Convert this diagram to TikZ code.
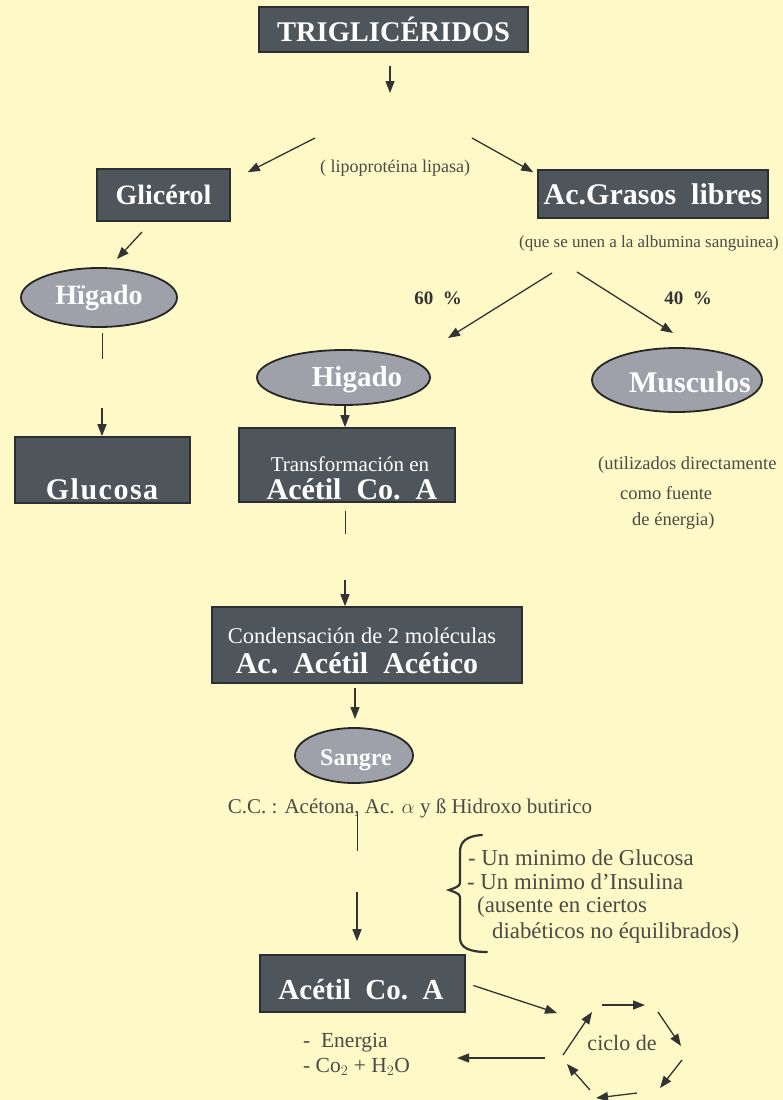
\documentclass[tikz,border=0pt]{standalone}
\usepackage{fontspec}
\setmainfont{Liberation Serif}
\usetikzlibrary{arrows.meta,shapes.geometric}
\definecolor{bg}{HTML}{FEF9C6}
\definecolor{boxfill}{HTML}{4F565B}
\definecolor{boxedge}{HTML}{2B2F33}
\definecolor{ellfill}{HTML}{9EA1AA}
\definecolor{ink}{HTML}{333333}
\definecolor{txt}{HTML}{4A4A46}
\newcommand{\fs}[1]{\fontsize{#1}{#1}\selectfont}
\begin{document}
\begin{tikzpicture}[x=1pt,y=-1pt,
  darkbox/.style={draw=boxedge, line width=1.6pt, fill=boxfill, inner sep=0pt, text=white},
  organ/.style={ellipse, draw=black!85, line width=1.8pt, fill=ellfill, inner sep=0pt, text=white},
  wtxt/.style={text=white, inner sep=0pt, font=\bfseries},
  arr/.style={draw=ink, line width=1.3pt, -{Triangle[length=12pt,width=9pt]}},
  ln/.style={draw=ink, line width=0.9pt},
  note/.style={text=txt, inner sep=0pt}]
\fill[bg] (0,0) rectangle (783,1100);
\useasboundingbox (0,0) rectangle (783,1100);

% boxes
\node[darkbox, minimum width=269, minimum height=45, font=\bfseries\fs{28.5}] (trig) at (393.5,29.5) {TRIGLICÉRIDOS};
\node[darkbox, minimum width=133, minimum height=52, font=\bfseries\fs{28}] (glic) at (163.5,195) {Glicérol};
\node[darkbox, minimum width=230, minimum height=48, font=\bfseries\fs{30}] (acg) at (653,194) {Ac.Grasos\ \ libres};
\node[darkbox, minimum width=175, minimum height=66] (gluc) at (102.5,470) {};
\node[wtxt, font=\bfseries\fs{30}\addfontfeature{LetterSpace=5}] (glucT) at (102,489) {Glucosa};
\node[darkbox, minimum width=216, minimum height=74] (trans) at (347,465) {};
\node[wtxt, font=\fs{21}\mdseries] (transT1) at (350,464) {Transformación en};
\node[wtxt, font=\bfseries\fs{30}] (transT2) at (352,489) {Acétil\ \ Co.\ \ A};
\node[darkbox, minimum width=310, minimum height=76] (cond) at (367,645) {};
\node[wtxt, font=\fs{22.5}\mdseries] (condT1) at (362,636) {Condensación de 2 moléculas};
\node[wtxt, font=\bfseries\fs{30}] (condT2) at (357,663) {Ac.\ \ Acétil\ \ Acético};
\node[darkbox, minimum width=205, minimum height=57] (acet) at (362.5,983.5) {};
\node[wtxt, font=\bfseries\fs{29}] (acetT) at (361,990) {Acétil\ \ Co.\ \ A};

% organs
\node[organ, minimum width=156, minimum height=59] (higL) at (99,297.5) {};
\node[wtxt, font=\bfseries\fs{28}] (higLT) at (99,298) {Hïgado};
\node[organ, minimum width=173, minimum height=55] (higC) at (343.5,377.5) {};
\node[wtxt, font=\bfseries\fs{29}] (higCT) at (357,380) {Higado};
\node[organ, minimum width=170, minimum height=64] (musc) at (677,380) {};
\node[wtxt, font=\bfseries\fs{30}] (muscT) at (690,382) {Musculos};
\node[organ, minimum width=118, minimum height=55] (sang) at (354,755.5) {};
\node[wtxt, font=\bfseries\fs{24}] (sangT) at (356,760) {Sangre};

% notes
\node[note, font=\fs{18}] (lipo) at (395,168) {( lipoprotéina lipasa)};
\node[note, font=\fs{17}] (alb) at (649,243) {(que se unen a la albumina sanguinea)};
\node[note, font=\bfseries\fs{19}, text=ink] (p60) at (438,298) {60\ \ \%};
\node[note, font=\bfseries\fs{19}, text=ink] (p40) at (688,298) {40\ \ \%};
\node[note, font=\fs{18.5}, anchor=west] (ut1) at (598,465) {(utilizados directamente};
\node[note, font=\fs{18.5}, anchor=west] (ut2) at (620,493) {como fuente};
\node[note, font=\fs{18.5}, anchor=west] (ut3) at (632,521) {de énergia)};
\node[note, font=\fs{21}] (cc) at (410,808) {C.C. : Acétona, Ac. $\alpha$ y ß Hidroxo butirico};
\node[note, font=\fs{22.8}, anchor=west] (m1) at (468,858) {- Un minimo de Glucosa};
\node[note, font=\fs{22.8}, anchor=west] (m2) at (467,882) {- Un minimo d’Insulina};
\node[note, font=\fs{22.8}, anchor=west] (m3) at (477,907) {(ausente en ciertos};
\node[note, font=\fs{22.8}, anchor=west] (m4) at (492,933) {diabéticos no équilibrados)};
\node[note, font=\fs{21.5}, anchor=west] (en1) at (303,1043) {-\ \ Energia};
\node[note, font=\fs{21.5}, anchor=west] (en2) at (303,1067) {-\ Co$_2$ + H$_2$O};
\node[note, font=\fs{22}] (ciclo) at (622,1043) {ciclo de};

% coordinates for free ends
\coordinate (s1) at (390,93);
\coordinate (sL) at (315,138);
\coordinate (sR) at (472,138);
\coordinate (gA) at (142,232);
\coordinate (gB) at (117,259);
\coordinate (hL1) at (102,333);
\coordinate (hL2) at (102,359);
\coordinate (gl0) at (102,408);
\coordinate (t1) at (345,511);
\coordinate (t2) at (345,534);
\coordinate (c0) at (345,580);
\coordinate (a60) at (552,273);
\coordinate (e60) at (448,338);
\coordinate (a40) at (577,272);
\coordinate (e40) at (673,333);
\coordinate (sg0) at (355,688);
\coordinate (sg1) at (355,719);
\coordinate (v1) at (357,814);
\coordinate (v2) at (357,851);
\coordinate (v3) at (357,892);
\coordinate (cyIn) at (557,1013);
\coordinate (cyOut) at (545,1058);
\coordinate (enTip) at (457,1058);
\coordinate (q1) at (602,1005); \coordinate (q2) at (645,1005);
\coordinate (q3) at (658,1012); \coordinate (q4) at (681,1046);
\coordinate (q5) at (682,1060); \coordinate (q6) at (660,1088);
\coordinate (q7) at (637,1093); \coordinate (q8) at (596,1098);
\coordinate (q9) at (590,1090); \coordinate (q10) at (567,1064);
\coordinate (q11) at (563,1055); \coordinate (q12) at (592,1012);

% connectors
\draw[arr, shorten <=13pt] (trig.south -| s1) -- (s1);
\draw[arr] (sL) -- ([xshift=17pt,yshift=-4pt]glic.north east);
\draw[arr] (sR) -- ([xshift=-4pt,yshift=-3pt]acg.north west);
\draw[arr] (gA) -- (gB);
\draw[ln] (hL1) -- (hL2);
\draw[arr] (gl0) -- (gluc.north -| gl0);
\draw[arr] (a60) -- (e60);
\draw[arr] (a40) -- (e40);
\draw[arr] ([xshift=-2pt]higC.south -| trans.north) -- ([xshift=-2pt]trans.north);
\draw[ln] (t1) -- (t2);
\draw[arr] (c0) -- (cond.north -| c0);
\draw[arr] (sg0) -- (sg1);
\draw[ln] (v1) -- (v2);
\draw[arr] (v3) -- ([yshift=13pt]acet.north -| v3);
\draw[arr, shorten <=8pt] (acet.east |- 0,983) -- (cyIn);
\draw[arr] (cyOut) -- (enTip);
\draw[arr] (q1) -- (q2);
\draw[arr] (q3) -- (q4);
\draw[arr] (q5) -- (q6);
\draw[arr] (q7) -- (q8);
\draw[arr] (q9) -- (q10);
\draw[arr] (q11) -- (q12);

% brace
\draw[ink, line width=2.2pt, line cap=round]
  (482,835) .. controls (466,836) and (460,842) .. (460,852) -- (460,880)
  .. controls (460,886) .. (449,890) .. controls (460,894) .. (460,900)
  -- (460,938) .. controls (460,948) and (470,952) .. (487,952);
\end{tikzpicture}
\end{document}
